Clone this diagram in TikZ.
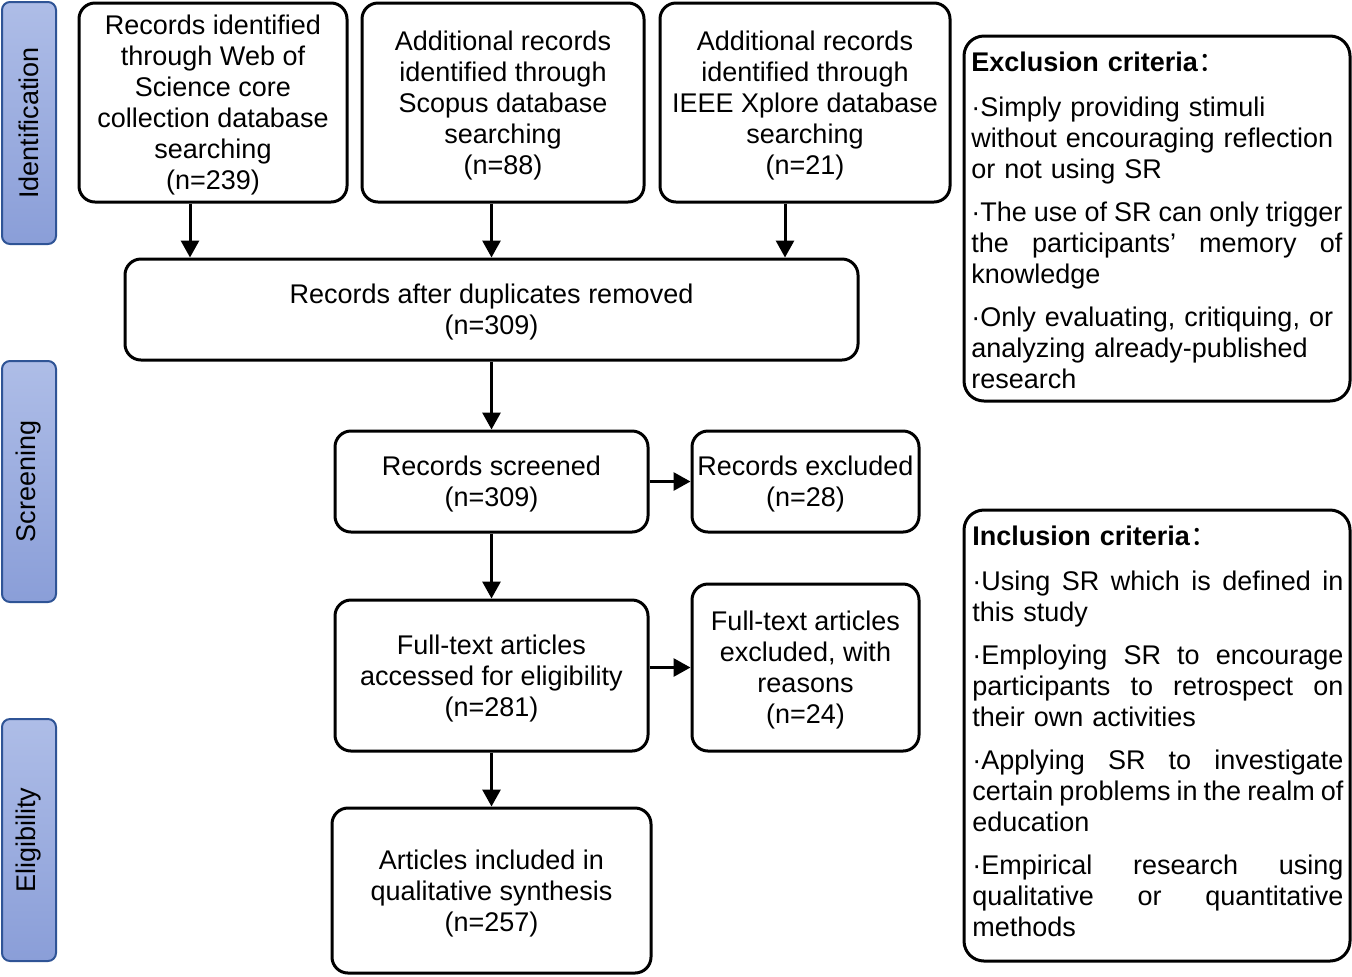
\documentclass[tikz,border=0pt]{standalone}
\usepackage{fontspec}
\setmainfont{Liberation Sans}
\newfontfamily\cjkfont{Noto Sans CJK SC}
\usetikzlibrary{arrows.meta,calc}
\newcommand{\mfs}{\fontsize{13.5}{15.5}\selectfont}
\newcommand{\jline}[1]{\leavevmode\hbox to 185.5pt{#1}}
\newcommand{\hf}{\hfill}
\definecolor{sidetop}{HTML}{AEBDE7}
\definecolor{sidebot}{HTML}{8A9ED8}
\definecolor{sideline}{HTML}{2F5496}
\begin{document}
\begin{tikzpicture}[x=0.5pt,y=-0.5pt,
  box/.style={draw, line width=1.5pt, rounded corners=8pt, align=center, inner sep=0pt, text depth=0pt, font=\mfs},
  crit/.style={draw, line width=1.5pt, rounded corners=10pt, inner sep=0pt},
  crittext/.style={anchor=base west, inner sep=0pt, align=left, font=\mfs},
  side/.style={draw=sideline, line width=1pt, rounded corners=4pt, top color=sidetop, bottom color=sidebot, inner sep=0pt, minimum width=27pt},
  sidelabel/.style={rotate=90, font=\mfs},
  arr/.style={line width=1.5pt, -{Triangle[length=8.5pt,width=9pt]}}]
\useasboundingbox (0,0) rectangle (1352,976);

% side bars
\node[side, minimum height=121pt] (sid) at (29,123) {};
\node[sidelabel] (sidt) at (sid.center) {Identification};
\node[side, minimum height=120.5pt] (sscr) at (29,481.5) {};
\node[sidelabel] (sscrt) at (sscr.center) {Screening};
\node[side, minimum height=121pt] (sel) at (29,840) {};
\node[sidelabel] (selt) at (sel.center) {Eligibility};

% flow boxes
\node[box, minimum width=134pt, minimum height=99.5pt] (A) at (213,102.5)
  {Records identified\\through Web of\\Science core\\collection database\\searching\\(n=239)};
\node[box, minimum width=141pt, minimum height=99.5pt] (B) at (503,102.5)
  {Additional records\\identified through\\Scopus database\\searching\\(n=88)};
\node[box, minimum width=145pt, minimum height=99.5pt] (C) at (805,102.5)
  {Additional records\\identified through\\IEEE Xplore database\\searching\\(n=21)};
\node[box, minimum width=366.5pt, minimum height=50.5pt] (D) at (491.5,309.5)
  {Records after duplicates removed\\(n=309)};
\node[box, minimum width=156.5pt, minimum height=50.5pt] (E) at (491.5,481.5)
  {Records screened\\(n=309)};
\node[box, minimum width=113.5pt, minimum height=50.5pt] (F) at (805.5,481.5)
  {Records excluded\\(n=28)};
\node[box, minimum width=156.5pt, minimum height=75.5pt] (G) at (491.5,675.5)
  {Full-text articles\\accessed for eligibility\\(n=281)};
\node[box, minimum width=113.5pt, minimum height=83.5pt] (H) at (805.5,667.5)
  {Full-text articles\\excluded, with\\reasons\\(n=24)};
\node[box, minimum width=159.5pt, minimum height=82.5pt] (I) at (491.5,890.5)
  {Articles included in\\qualitative synthesis\\(n=257)};

% arrows
\coordinate (xa) at (190,0);
\coordinate (xc) at (785,0);
\draw[arr] (A.south -| xa) -- (D.north -| xa);
\draw[arr] (B.south -| D.north) -- (D.north);
\draw[arr] (C.south -| xc) -- (D.north -| xc);
\draw[arr] (D.south) -- (E.north);
\draw[arr] (E.east) -- (F.west);
\draw[arr] (E.south) -- (G.north);
\draw[arr] (G.east |- H.west) -- (H.west);
\draw[arr] (G.south) -- (I.north);

% criteria boxes
\node[crit, minimum width=193pt, minimum height=182.5pt] (EX) at (1157,218.5) {};
\node[crittext, text width=185.5pt] (EXT) at (971,71)
  {\textbf{Exclusion criteria}{\cjkfont\mdseries ：}\\[7pt]
   ·Simply providing stimuli\\
   without encouraging reflection\\
   or not using SR\\[6pt]
   \jline{·The\hf use\hf of\hf SR\hf can\hf only\hf trigger}\\
   \jline{the\hf participants’\hf memory\hf of}\\
   knowledge\\[6pt]
   ·Only evaluating, critiquing, or\\
   analyzing already-published\\
   research};

\node[crit, minimum width=193pt, minimum height=225.5pt] (IN) at (1157,735.5) {};
\node[crittext, text width=185.5pt] (INT) at (972,545)
  {\textbf{Inclusion criteria}{\cjkfont\mdseries ：}\\[7pt]
   \jline{·Using\hf SR\hf which\hf is\hf defined\hf in}\\
   this study\\[6pt]
   \jline{·Employing\hf SR\hf to\hf encourage}\\
   \jline{participants\hf to\hf retrospect\hf on}\\
   their own activities\\[6pt]
   \jline{·Applying\hf SR\hf to\hf investigate}\\
   \jline{certain\hf problems\hf in\hf the\hf realm\hf of}\\
   education\\[6pt]
   \jline{·Empirical\hf research\hf using}\\
   \jline{qualitative\hf or\hf quantitative}\\
   methods};
\end{tikzpicture}
\end{document}
